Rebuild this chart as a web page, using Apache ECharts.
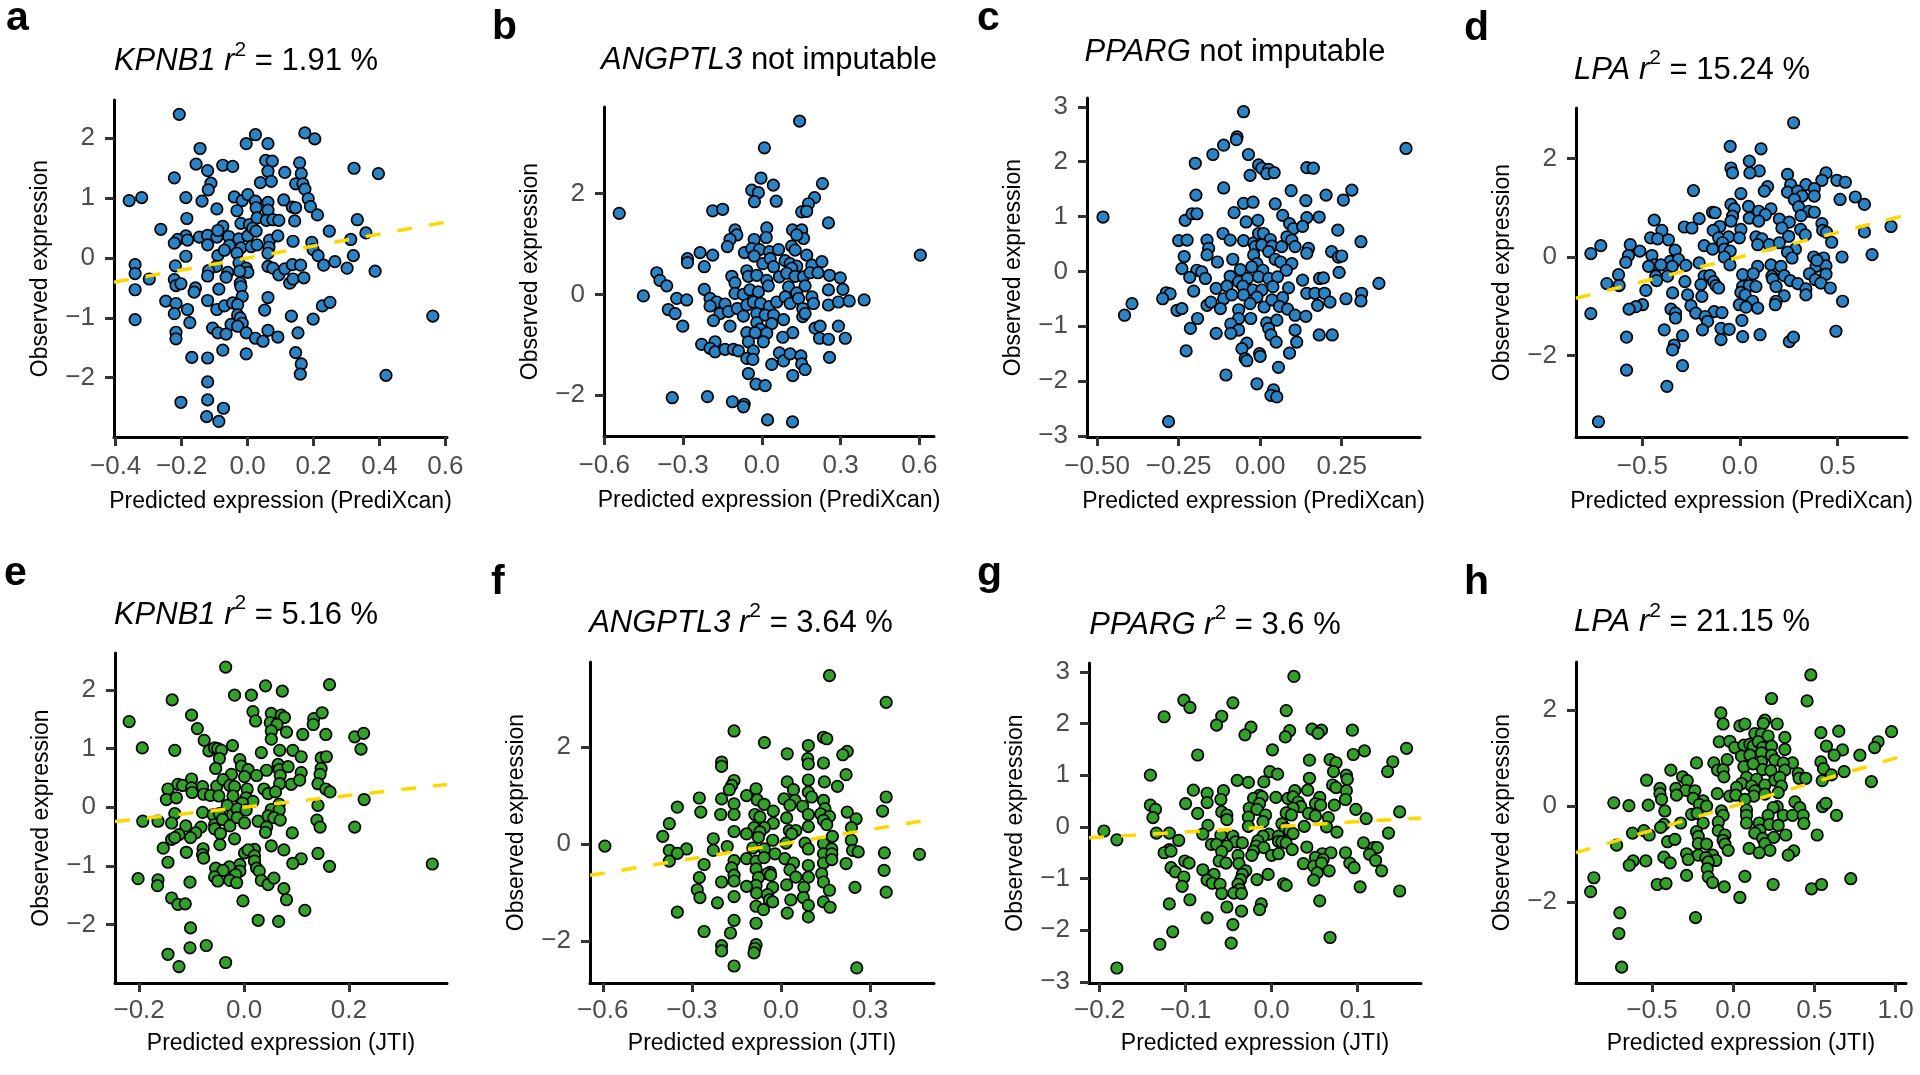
<!DOCTYPE html>
<html><head><meta charset="utf-8">
<script src="https://cdn.jsdelivr.net/npm/echarts@6/dist/echarts.min.js"></script>
<style>html,body{margin:0;padding:0;background:#fff}#chart{width:1920px;height:1075px}</style>
</head><body><div id="chart"></div>
<script>
// ---------------- DATA ----------------
const panelLetters = ['a','b','c','d','e','f','g','h'];
const geneNames = ['KPNB1','ANGPTL3','PPARG','LPA','KPNB1','ANGPTL3','PPARG','LPA'];
const r2Labels = ['1.91', null, null, '15.24', '5.16', '3.64', '3.6', '21.15'];
const xAxisTitles = ['Predicted expression (PrediXcan)','Predicted expression (PrediXcan)','Predicted expression (PrediXcan)','Predicted expression (PrediXcan)','Predicted expression (JTI)','Predicted expression (JTI)','Predicted expression (JTI)','Predicted expression (JTI)'];
const yAxisTitle = 'Observed expression';

const xTicks = [[-0.4,-0.2,0,0.2,0.4,0.6],[-0.6,-0.3,0,0.3,0.6],[-0.5,-0.25,0,0.25],[-0.5,0,0.5],[-0.2,0,0.2],[-0.6,-0.3,0,0.3],[-0.2,-0.1,0,0.1],[-0.5,0,0.5,1.0]];
const xTickLabels = [['−0.4','−0.2','0.0','0.2','0.4','0.6'],['−0.6','−0.3','0.0','0.3','0.6'],['−0.50','−0.25','0.00','0.25'],['−0.5','0.0','0.5'],['−0.2','0.0','0.2'],['−0.6','−0.3','0.0','0.3'],['−0.2','−0.1','0.0','0.1'],['−0.5','0.0','0.5','1.0']];
const yTicks = [[-2,-1,0,1,2],[-2,0,2],[-3,-2,-1,0,1,2,3],[-2,0,2],[-2,-1,0,1,2],[-2,0,2],[-3,-2,-1,0,1,2,3],[-2,0,2]];
const yTickLabels = [['−2','−1','0','1','2'],['−2','0','2'],['−3','−2','−1','0','1','2','3'],['−2','0','2'],['−2','−1','0','1','2'],['−2','0','2'],['−3','−2','−1','0','1','2','3'],['−2','0','2']];

const xLimits = [[-0.405,0.605],[-0.601,0.656],[-0.531,0.490],[-0.840,0.856],[-0.246,0.387],[-0.643,0.515],[-0.2124,0.1738],[-0.968,1.064]];
const yLimits = [[-2.99,2.64],[-2.81,3.72],[-3.02,3.16],[-3.66,3.03],[-3.00,2.63],[-2.86,3.75],[-3.02,3.17],[-3.68,3.00]];
const showIdentityLine = [true,false,false,true,true,true,true,true];

const kpnb1PrediXcan = [[-0.207,2.40],[0.024,2.06],[0.174,2.09],[0.204,1.99],[-0.004,1.91],[0.062,1.91],[-0.144,1.83],[-0.156,1.57],[-0.121,1.46],[-0.075,1.55],[-0.045,1.53],[0.055,1.63],[0.075,1.62],[0.062,1.45],[0.039,1.26],[0.072,1.28],[0.113,1.43],[0.158,1.59],[0.163,1.41],[0.146,1.24],[0.168,1.24],[0.174,1.15],[0.184,0.99],[0.191,0.86],[0.212,0.72],[0.323,1.50],[0.397,1.41],[-0.222,1.34],[-0.111,1.25],[-0.119,1.14],[-0.359,0.96],[-0.321,1.01],[-0.187,1.01],[-0.138,0.95],[-0.093,0.82],[-0.040,1.02],[-0.016,0.96],[0.001,1.06],[0.024,0.95],[-0.032,0.79],[0.026,0.84],[0.062,0.93],[0.062,0.80],[0.110,0.97],[0.136,0.85],[0.146,0.84],[-0.184,0.66],[-0.020,0.58],[0.006,0.56],[0.029,0.67],[0.057,0.63],[0.077,0.64],[0.095,0.63],[0.143,0.62],[0.333,0.64],[-0.263,0.48],[-0.187,0.37],[-0.212,0.31],[-0.222,0.25],[-0.182,0.30],[-0.146,0.35],[-0.121,0.38],[-0.093,0.35],[-0.075,0.53],[-0.090,0.46],[-0.057,0.36],[-0.026,0.32],[0.001,0.37],[0.016,0.50],[0.026,0.45],[-0.121,0.22],[-0.055,0.21],[-0.020,0.17],[0.011,0.19],[0.029,0.22],[0.067,0.30],[0.092,0.37],[0.065,0.18],[0.062,0.08],[0.138,0.28],[0.195,0.26],[0.248,0.45],[0.359,0.42],[0.313,0.31],[0.321,0.04],[0.199,0.14],[0.214,0.04],[0.231,-0.12],[0.265,-0.06],[0.302,-0.17],[0.387,-0.22],[-0.187,0.03],[-0.090,0.04],[-0.070,0.13],[-0.032,0.08],[-0.026,-0.08],[-0.004,-0.17],[0.001,-0.24],[-0.024,-0.22],[-0.095,-0.14],[-0.118,-0.21],[-0.121,-0.30],[-0.060,-0.24],[-0.065,-0.32],[0.062,-0.14],[0.077,-0.17],[0.095,-0.28],[0.113,-0.18],[0.136,-0.11],[0.161,-0.12],[0.128,-0.42],[0.138,-0.35],[0.171,-0.33],[-0.341,-0.11],[-0.341,-0.26],[-0.298,-0.35],[-0.219,-0.13],[-0.222,-0.36],[-0.217,-0.46],[-0.202,-0.43],[-0.158,-0.50],[-0.162,-0.57],[-0.087,-0.52],[-0.022,-0.42],[-0.020,-0.48],[-0.016,-0.64],[-0.341,-0.53],[-0.248,-0.72],[-0.217,-0.76],[-0.121,-0.71],[-0.182,-0.86],[-0.093,-0.86],[-0.070,-0.80],[-0.045,-0.75],[-0.030,-0.78],[0.062,-0.66],[0.052,-0.87],[-0.222,-0.93],[-0.341,-1.03],[-0.175,-1.08],[-0.030,-0.95],[-0.022,-1.00],[-0.016,-1.09],[-0.050,-1.11],[-0.030,-1.14],[-0.106,-1.17],[-0.090,-1.25],[-0.065,-1.27],[0.133,-0.97],[0.199,-1.02],[0.227,-0.80],[0.250,-0.74],[-0.217,-1.24],[-0.217,-1.35],[-0.004,-1.25],[0.024,-1.34],[0.047,-1.39],[0.062,-1.21],[0.092,-1.32],[0.153,-1.25],[-0.169,-1.66],[-0.121,-1.67],[-0.075,-1.54],[-0.004,-1.60],[0.146,-1.58],[0.163,-1.77],[0.160,-1.94],[0.420,-1.96],[0.562,-0.97],[-0.121,-2.07],[-0.202,-2.41],[-0.121,-2.37],[-0.073,-2.51],[-0.124,-2.65],[-0.087,-2.73]];

const angptl3PrediXcan = [[0.144,3.44],[0.010,2.91],[-0.003,2.31],[0.044,2.17],[0.231,2.20],[-0.038,2.07],[-0.013,2.02],[-0.028,1.84],[0.055,1.85],[0.201,1.92],[0.178,1.80],[0.152,1.64],[0.171,1.65],[-0.543,1.61],[-0.187,1.66],[-0.149,1.69],[0.254,1.42],[-0.102,1.28],[-0.095,1.18],[-0.121,1.09],[-0.131,0.95],[0.019,1.32],[0.017,1.13],[-0.029,1.09],[0.117,1.28],[0.152,1.28],[0.159,1.11],[0.133,1.18],[0.114,0.96],[0.127,0.88],[-0.235,0.83],[-0.187,0.78],[-0.283,0.71],[-0.283,0.63],[-0.219,0.55],[-0.066,0.83],[-0.038,0.91],[-0.009,0.89],[-0.029,0.76],[0.004,0.61],[0.029,0.85],[0.064,0.89],[0.032,0.71],[0.045,0.55],[0.171,0.78],[0.191,0.58],[0.229,0.65],[0.089,0.67],[0.108,0.61],[0.133,0.56],[0.114,0.52],[-0.400,0.43],[-0.388,0.28],[-0.362,0.17],[-0.114,0.36],[-0.102,0.23],[-0.057,0.47],[-0.051,0.36],[-0.019,0.38],[0.019,0.28],[0.025,0.17],[0.067,0.35],[0.095,0.42],[0.127,0.36],[0.159,0.35],[0.184,0.43],[0.214,0.43],[0.258,0.38],[0.299,0.33],[0.165,0.17],[0.102,0.15],[0.133,0.03],[0.254,0.09],[0.309,0.10],[-0.219,0.10],[-0.102,0.02],[-0.070,0.00],[-0.045,0.09],[-0.013,0.05],[-0.451,-0.03],[-0.324,-0.08],[-0.286,-0.11],[-0.197,-0.08],[-0.172,-0.15],[-0.140,-0.19],[-0.197,-0.23],[-0.356,-0.30],[-0.330,-0.38],[-0.159,-0.38],[-0.127,-0.34],[-0.093,-0.28],[-0.057,-0.21],[-0.032,-0.15],[-0.004,-0.18],[0.029,-0.24],[0.057,-0.15],[0.089,-0.05],[0.108,-0.18],[0.140,-0.08],[0.191,-0.05],[0.197,-0.18],[0.254,-0.21],[0.292,-0.15],[0.333,-0.13],[0.390,-0.11],[0.156,-0.28],[0.156,-0.44],[0.165,-0.38],[-0.019,-0.38],[0.013,-0.41],[0.045,-0.41],[0.083,-0.50],[-0.070,-0.43],[-0.184,-0.52],[-0.121,-0.63],[-0.301,-0.63],[-0.019,-0.56],[0.038,-0.58],[-0.006,-0.69],[0.019,-0.77],[-0.057,-0.76],[-0.025,-0.76],[0.118,-0.76],[0.203,-0.67],[0.222,-0.63],[0.292,-0.63],[0.080,-0.85],[0.220,-0.87],[0.254,-0.89],[0.318,-0.87],[-0.051,-0.94],[0.006,-0.94],[-0.229,-0.99],[-0.178,-0.94],[-0.197,-1.07],[-0.178,-1.14],[-0.140,-1.09],[-0.108,-1.09],[-0.089,-1.12],[-0.032,-1.12],[-0.057,-1.27],[-0.034,-1.29],[0.067,-1.16],[0.083,-1.32],[0.108,-1.18],[0.149,-1.22],[0.152,-1.38],[0.165,-1.49],[0.258,-1.25],[0.038,-1.39],[-0.051,-1.57],[0.118,-1.61],[-0.022,-1.78],[0.013,-1.81],[-0.341,-2.05],[-0.207,-2.03],[-0.112,-2.13],[-0.067,-2.18],[-0.070,-2.23],[0.022,-2.49],[0.117,-2.53],[0.604,0.78]];

const ppargPrediXcan = [[-0.051,2.91],[-0.071,2.45],[-0.073,2.40],[-0.112,2.30],[-0.145,2.13],[-0.036,2.13],[0.447,2.24],[-0.199,1.97],[-0.005,1.94],[0.005,1.88],[0.026,1.86],[0.020,1.78],[0.043,1.80],[-0.031,1.75],[0.143,1.89],[0.163,1.88],[-0.112,1.52],[0.095,1.47],[0.281,1.48],[0.202,1.39],[0.255,1.30],[0.140,1.29],[-0.197,1.39],[-0.051,1.24],[-0.022,1.26],[0.046,1.23],[-0.482,0.99],[-0.230,0.93],[-0.209,1.05],[-0.194,1.05],[-0.080,1.07],[-0.043,0.90],[-0.007,0.93],[0.069,1.02],[0.143,0.98],[0.181,0.99],[0.090,0.87],[0.102,0.78],[0.130,0.82],[0.238,0.75],[-0.114,0.69],[-0.092,0.57],[-0.250,0.56],[-0.224,0.57],[-0.163,0.57],[-0.158,0.42],[-0.163,0.30],[-0.051,0.56],[-0.020,0.52],[-0.005,0.69],[0.010,0.69],[0.031,0.58],[-0.015,0.45],[0.005,0.48],[0.036,0.46],[0.026,0.36],[0.066,0.45],[0.082,0.63],[0.097,0.57],[0.107,0.45],[0.148,0.42],[0.143,0.33],[0.309,0.54],[0.219,0.36],[0.240,0.26],[0.250,0.28],[-0.233,0.27],[-0.131,0.17],[-0.084,0.22],[-0.020,0.30],[0.046,0.22],[0.063,0.17],[0.097,0.14],[-0.010,0.14],[-0.240,0.05],[-0.194,0.02],[-0.179,-0.01],[-0.061,0.03],[-0.026,0.08],[0.008,0.02],[0.080,0.02],[0.242,-0.02],[-0.216,-0.11],[-0.168,-0.13],[-0.092,-0.09],[-0.066,-0.19],[-0.039,-0.13],[-0.005,-0.10],[0.026,-0.13],[0.053,-0.10],[0.130,-0.16],[0.182,-0.13],[0.194,-0.12],[0.364,-0.22],[-0.135,-0.31],[-0.102,-0.27],[-0.053,-0.27],[-0.022,-0.34],[0.005,-0.34],[0.039,-0.28],[0.087,-0.30],[-0.204,-0.36],[-0.288,-0.39],[-0.276,-0.41],[-0.299,-0.50],[-0.112,-0.50],[-0.087,-0.43],[-0.051,-0.43],[-0.010,-0.47],[0.069,-0.48],[0.143,-0.40],[0.168,-0.40],[0.197,-0.40],[0.311,-0.40],[0.309,-0.54],[0.263,-0.50],[0.214,-0.56],[0.176,-0.62],[-0.163,-0.62],[-0.151,-0.56],[-0.122,-0.68],[-0.066,-0.70],[-0.031,-0.59],[0.012,-0.65],[0.036,-0.52],[0.059,-0.64],[0.084,-0.69],[-0.255,-0.71],[-0.240,-0.68],[-0.393,-0.59],[-0.416,-0.80],[-0.192,-0.86],[-0.066,-0.86],[-0.029,-0.86],[0.020,-0.94],[0.051,-0.89],[0.107,-0.80],[0.140,-0.82],[-0.090,-0.96],[-0.066,-1.07],[-0.090,-1.13],[-0.214,-1.04],[-0.135,-1.13],[0.026,-1.04],[0.033,-1.16],[0.107,-1.07],[0.181,-1.16],[0.221,-1.16],[0.049,-1.29],[0.112,-1.29],[-0.041,-1.31],[-0.056,-1.41],[-0.227,-1.45],[-0.002,-1.50],[0.000,-1.55],[0.090,-1.49],[-0.046,-1.59],[-0.041,-1.63],[0.056,-1.75],[-0.105,-1.89],[-0.010,-2.05],[0.041,-2.16],[0.033,-2.26],[0.051,-2.29],[-0.281,-2.74]];

const lpaPrediXcan = [[0.275,2.73],[-0.050,2.25],[0.108,2.20],[0.048,1.95],[0.099,1.75],[-0.046,1.81],[-0.038,1.71],[0.051,1.71],[0.244,1.68],[0.441,1.71],[0.420,1.56],[0.497,1.56],[0.540,1.52],[0.260,1.47],[0.338,1.47],[0.381,1.39],[0.142,1.43],[0.125,1.34],[-0.238,1.35],[0.005,1.29],[0.244,1.32],[0.296,1.34],[0.318,1.24],[0.279,1.17],[0.381,1.24],[0.513,1.17],[0.591,1.22],[0.638,1.07],[-0.046,1.07],[0.044,1.03],[-0.029,0.98],[0.301,1.02],[0.159,0.98],[0.096,0.93],[0.130,0.86],[0.352,0.93],[0.381,0.91],[-0.140,0.91],[-0.127,0.90],[-0.038,0.83],[0.313,0.84],[-0.209,0.78],[-0.046,0.73],[0.048,0.79],[0.096,0.73],[0.202,0.77],[0.253,0.71],[0.420,0.68],[-0.439,0.75],[-0.103,0.62],[-0.285,0.61],[-0.246,0.59],[0.215,0.59],[0.311,0.56],[0.424,0.54],[0.444,0.50],[0.638,0.51],[0.774,0.62],[-0.400,0.54],[-0.137,0.54],[0.005,0.56],[0.082,0.41],[0.113,0.37],[0.250,0.42],[0.335,0.45],[-0.458,0.39],[-0.422,0.37],[-0.366,0.35],[-0.109,0.39],[-0.058,0.41],[-0.003,0.39],[-0.089,0.29],[0.091,0.25],[0.150,0.25],[0.202,0.29],[0.470,0.30],[-0.713,0.23],[-0.562,0.25],[-0.183,0.23],[-0.513,0.12],[-0.332,0.14],[-0.140,0.16],[-0.080,0.16],[-0.050,0.12],[0.284,0.16],[-0.764,0.07],[-0.571,0.03],[-0.451,0.03],[0.244,0.10],[0.677,0.05],[-0.080,0.00],[0.267,-0.02],[0.378,0.00],[0.429,-0.02],[0.523,0.00],[-0.585,-0.11],[-0.357,-0.09],[-0.315,-0.05],[-0.439,-0.16],[-0.468,-0.19],[-0.405,-0.16],[-0.347,-0.19],[-0.277,-0.17],[-0.209,-0.12],[-0.051,-0.16],[0.091,-0.19],[0.159,-0.16],[0.210,-0.19],[0.390,-0.19],[0.441,-0.18],[0.395,-0.07],[-0.622,-0.36],[-0.431,-0.39],[-0.371,-0.39],[-0.183,-0.39],[-0.154,-0.38],[0.014,-0.36],[0.068,-0.34],[0.164,-0.39],[0.227,-0.38],[0.356,-0.34],[0.441,-0.35],[-0.427,-0.48],[-0.135,-0.50],[-0.282,-0.50],[0.168,-0.45],[0.258,-0.48],[0.386,-0.46],[0.415,-0.53],[-0.682,-0.54],[-0.619,-0.58],[-0.200,-0.56],[-0.123,-0.58],[-0.109,-0.63],[0.014,-0.60],[0.048,-0.58],[0.082,-0.60],[0.185,-0.60],[0.296,-0.54],[0.338,-0.65],[0.463,-0.63],[-0.482,-0.68],[-0.345,-0.73],[0.005,-0.72],[0.027,-0.77],[0.338,-0.77],[-0.268,-0.77],[-0.195,-0.80],[0.227,-0.79],[0.065,-0.90],[0.185,-0.90],[0.526,-0.90],[-0.499,-0.97],[-0.533,-1.01],[-0.568,-1.06],[-0.251,-0.99],[-0.003,-0.97],[0.031,-1.02],[0.181,-0.97],[0.091,-1.04],[-0.764,-1.15],[-0.353,-1.06],[-0.330,-1.14],[-0.226,-1.14],[-0.132,-1.11],[-0.092,-1.13],[-0.178,-1.21],[-0.330,-1.24],[-0.166,-1.31],[0.010,-1.29],[-0.388,-1.48],[-0.192,-1.48],[-0.097,-1.45],[-0.055,-1.47],[0.492,-1.51],[-0.581,-1.63],[-0.294,-1.60],[-0.097,-1.68],[0.014,-1.62],[0.103,-1.58],[0.253,-1.72],[0.274,-1.63],[-0.337,-1.79],[-0.345,-1.89],[-0.294,-2.21],[-0.581,-2.30],[-0.374,-2.63],[-0.725,-3.35]];

const kpnb1Jti = [[-0.035,2.39],[0.041,2.07],[0.163,2.09],[0.073,1.98],[-0.018,1.91],[0.014,1.91],[-0.137,1.83],[-0.219,1.46],[-0.100,1.57],[0.017,1.63],[0.022,1.47],[0.052,1.60],[0.071,1.57],[0.077,1.53],[0.133,1.51],[0.132,1.41],[0.149,1.61],[0.050,1.44],[0.063,1.41],[-0.089,1.34],[0.052,1.30],[0.052,1.16],[0.081,1.28],[0.112,1.24],[0.156,1.24],[0.211,1.20],[0.228,1.26],[0.223,0.99],[-0.076,1.14],[-0.022,1.05],[-0.194,1.01],[-0.132,0.97],[-0.067,0.96],[-0.056,1.01],[-0.050,1.00],[-0.043,0.97],[0.068,0.97],[0.093,0.97],[0.033,0.93],[0.109,0.86],[0.147,0.84],[0.157,0.86],[-0.047,0.83],[-0.008,0.81],[-0.054,0.66],[-0.005,0.70],[0.008,0.64],[0.043,0.63],[0.065,0.73],[0.067,0.64],[0.084,0.69],[0.147,0.66],[0.145,0.56],[0.109,0.59],[-0.024,0.56],[0.001,0.52],[0.024,0.54],[0.069,0.54],[-0.100,0.48],[-0.126,0.39],[-0.117,0.37],[-0.145,0.31],[-0.100,0.33],[-0.079,0.35],[-0.052,0.36],[-0.040,0.47],[-0.027,0.37],[-0.018,0.35],[0.006,0.31],[0.038,0.31],[0.068,0.40],[0.090,0.39],[0.106,0.46],[0.141,0.40],[0.156,0.31],[0.164,0.26],[-0.148,0.13],[-0.129,0.16],[-0.099,0.25],[-0.077,0.22],[-0.064,0.20],[-0.048,0.19],[-0.021,0.19],[0.004,0.16],[0.017,0.10],[0.046,0.23],[0.060,0.26],[0.229,0.13],[-0.032,0.03],[-0.003,0.07],[0.067,0.05],[0.141,0.03],[-0.132,-0.11],[-0.079,-0.09],[-0.059,-0.13],[-0.047,-0.11],[-0.022,-0.13],[-0.013,-0.03],[0.004,-0.05],[0.052,-0.04],[0.067,-0.05],[-0.193,-0.24],[-0.164,-0.24],[-0.138,-0.27],[-0.056,-0.30],[-0.041,-0.21],[-0.027,-0.32],[-0.013,-0.18],[0.001,-0.27],[0.027,-0.24],[0.046,-0.15],[0.057,-0.18],[0.069,-0.22],[0.139,-0.22],[0.145,-0.34],[0.211,-0.34],[-0.111,-0.32],[-0.082,-0.34],[0.043,-0.34],[-0.056,-0.37],[-0.092,-0.44],[-0.124,-0.47],[-0.045,-0.45],[0.041,-0.43],[0.092,-0.44],[-0.138,-0.55],[-0.132,-0.52],[-0.102,-0.52],[-0.018,-0.54],[-0.046,-0.64],[-0.154,-0.70],[0.052,-0.66],[-0.078,-0.71],[-0.110,-0.77],[-0.079,-0.81],[0.001,-0.78],[0.020,-0.72],[0.008,-0.73],[0.076,-0.73],[-0.077,-0.87],[0.020,-0.83],[0.020,-0.92],[-0.145,-0.94],[0.109,-0.88],[0.093,-0.96],[0.141,-0.79],[0.163,-1.01],[-0.008,-0.98],[-0.054,-1.04],[-0.028,-1.02],[-0.008,-1.09],[-0.016,-1.15],[0.024,-1.04],[0.029,-1.09],[-0.040,-1.08],[-0.056,-1.19],[-0.050,-1.26],[-0.027,-1.25],[-0.014,-1.29],[-0.202,-1.22],[-0.164,-1.24],[-0.165,-1.34],[-0.103,-1.28],[0.033,-1.25],[0.046,-1.32],[0.057,-1.21],[0.076,-1.39],[0.081,-1.58],[-0.138,-1.55],[-0.126,-1.66],[-0.112,-1.65],[-0.002,-1.60],[0.116,-1.76],[0.027,-1.93],[0.066,-1.95],[0.359,-0.97],[-0.102,-2.06],[-0.103,-2.40],[-0.072,-2.36],[-0.145,-2.51],[-0.124,-2.72],[-0.035,-2.65]];

const angptl3Jti = [[0.163,3.47],[0.354,2.92],[-0.158,2.33],[-0.056,2.09],[0.143,2.20],[0.154,2.17],[0.092,2.03],[0.021,1.86],[0.223,1.91],[0.208,1.84],[0.090,1.76],[0.092,1.65],[0.143,1.67],[-0.200,1.69],[-0.200,1.60],[0.219,1.43],[-0.158,1.31],[-0.166,1.21],[-0.174,1.12],[0.021,1.28],[0.092,1.32],[0.146,1.28],[0.190,1.19],[-0.084,1.14],[0.042,1.12],[0.092,1.07],[-0.116,1.00],[-0.275,0.95],[-0.200,0.93],[-0.080,0.91],[0.010,0.93],[0.047,0.90],[0.103,0.97],[0.143,0.90],[0.354,0.97],[-0.158,0.83],[-0.057,0.82],[0.030,0.80],[0.073,0.78],[0.148,0.73],[-0.349,0.76],[-0.026,0.68],[-0.270,0.66],[-0.203,0.61],[-0.158,0.61],[-0.088,0.61],[-0.071,0.56],[0.019,0.54],[0.092,0.61],[0.134,0.62],[0.163,0.57],[0.223,0.66],[0.253,0.52],[0.342,0.68],[-0.376,0.42],[-0.026,0.43],[0.143,0.49],[0.154,0.40],[-0.091,0.34],[-0.056,0.34],[0.092,0.36],[0.237,0.34],[-0.158,0.26],[-0.116,0.21],[-0.071,0.25],[0.028,0.28],[0.050,0.28],[-0.398,0.16],[-0.228,0.11],[-0.076,0.14],[-0.028,0.08],[0.036,0.21],[0.173,0.16],[0.237,0.08],[-0.593,-0.04],[-0.318,-0.10],[-0.376,-0.13],[-0.349,-0.19],[-0.228,-0.13],[-0.181,-0.05],[-0.095,-0.08],[-0.056,-0.10],[-0.020,-0.20],[0.017,0.02],[0.081,0.02],[0.092,-0.10],[0.143,0.01],[0.171,-0.10],[0.143,-0.20],[0.171,-0.20],[0.241,-0.13],[0.260,-0.16],[0.348,-0.18],[0.466,-0.21],[-0.376,-0.35],[-0.259,-0.42],[-0.158,-0.34],[-0.116,-0.30],[-0.084,-0.35],[-0.057,-0.28],[0.013,-0.30],[0.042,-0.39],[0.092,-0.44],[0.143,-0.39],[0.171,-0.32],[0.219,-0.40],[-0.166,-0.49],[-0.084,-0.51],[-0.037,-0.58],[0.030,-0.53],[0.347,-0.54],[-0.158,-0.64],[-0.046,-0.61],[-0.035,-0.64],[0.050,-0.68],[0.092,-0.68],[0.137,-0.61],[-0.275,-0.69],[-0.076,-0.69],[-0.158,-0.76],[-0.200,-0.78],[0.143,-0.78],[-0.084,-0.85],[-0.116,-0.87],[-0.028,-0.89],[0.019,-0.84],[0.077,-0.89],[0.249,-0.89],[-0.282,-0.94],[-0.082,-1.01],[-0.046,-1.04],[0.163,-0.95],[0.354,-0.99],[-0.273,-1.10],[-0.158,-1.08],[-0.039,-1.15],[-0.028,-1.19],[0.033,-1.15],[0.075,-1.10],[-0.214,-1.21],[0.143,-1.19],[0.092,-1.26],[-0.084,-1.28],[-0.059,-1.35],[0.165,-1.30],[-0.349,-1.40],[0.021,-1.42],[0.092,-1.50],[-0.158,-1.57],[-0.084,-1.63],[-0.259,-1.80],[-0.170,-1.83],[-0.200,-2.09],[-0.200,-2.20],[-0.084,-2.07],[-0.088,-2.15],[-0.091,-2.24],[-0.158,-2.51],[0.255,-2.55]];

const ppargJti = [[0.026,2.91],[-0.102,2.45],[-0.095,2.31],[-0.045,2.40],[0.017,2.25],[-0.125,2.13],[-0.058,2.14],[-0.064,1.97],[-0.024,1.93],[-0.031,1.78],[0.021,1.86],[0.016,1.74],[0.047,1.89],[0.058,1.87],[0.054,1.81],[0.094,1.87],[0.157,1.52],[0.108,1.47],[0.001,1.49],[-0.086,1.39],[0.095,1.40],[0.044,1.29],[0.068,1.30],[0.075,1.24],[0.141,1.26],[0.135,1.07],[0.072,1.07],[-0.002,1.07],[0.007,1.02],[-0.141,1.00],[0.087,1.00],[0.088,0.92],[0.044,0.94],[-0.040,0.90],[-0.027,0.86],[-0.009,0.87],[0.071,0.81],[0.075,0.76],[0.087,0.70],[-0.091,0.71],[-0.075,0.65],[-0.056,0.70],[0.027,0.70],[0.042,0.71],[-0.014,0.61],[-0.021,0.55],[-0.011,0.58],[0.005,0.57],[0.019,0.55],[0.025,0.58],[0.056,0.57],[0.086,0.53],[-0.075,0.47],[-0.059,0.53],[-0.100,0.45],[-0.141,0.42],[-0.135,0.34],[-0.138,0.18],[-0.014,0.45],[0.031,0.48],[0.034,0.39],[0.051,0.45],[0.057,0.42],[0.073,0.42],[-0.026,0.36],[-0.017,0.34],[0.025,0.36],[0.043,0.26],[0.098,0.34],[0.149,0.29],[-0.086,0.26],[-0.058,0.29],[-0.052,0.23],[-0.027,0.19],[-0.007,0.23],[0.017,0.27],[0.023,0.23],[0.051,0.21],[0.066,0.18],[0.110,0.16],[-0.052,0.14],[-0.010,0.10],[0.012,0.06],[-0.074,0.03],[-0.027,0.01],[0.038,0.01],[0.064,0.00],[-0.195,-0.08],[-0.134,-0.12],[-0.119,-0.12],[-0.080,-0.14],[0.016,-0.03],[0.021,-0.08],[0.025,-0.13],[0.076,-0.10],[0.136,-0.12],[-0.180,-0.25],[-0.108,-0.26],[-0.059,-0.16],[-0.045,-0.18],[-0.003,-0.14],[0.008,-0.18],[0.008,-0.28],[0.012,-0.29],[-0.010,-0.18],[-0.016,-0.27],[-0.042,-0.29],[-0.034,-0.31],[-0.070,-0.34],[-0.064,-0.34],[-0.052,-0.37],[0.017,-0.31],[0.107,-0.31],[-0.018,-0.37],[-0.009,-0.40],[0.041,-0.39],[-0.119,-0.44],[-0.058,-0.48],[-0.021,-0.47],[0.024,-0.44],[0.119,-0.40],[0.123,-0.40],[0.114,-0.53],[-0.125,-0.50],[-0.117,-0.47],[-0.039,-0.55],[-0.023,-0.55],[0.000,-0.55],[0.008,-0.52],[0.059,-0.52],[0.069,-0.50],[0.086,-0.50],[0.051,-0.59],[0.060,-0.63],[0.121,-0.65],[-0.101,-0.66],[-0.096,-0.70],[-0.061,-0.66],[-0.053,-0.70],[-0.038,-0.71],[0.037,-0.71],[0.049,-0.76],[0.058,-0.70],[0.091,-0.70],[0.096,-0.79],[0.067,-0.85],[0.053,-0.89],[0.128,-0.85],[-0.117,-0.79],[-0.080,-0.83],[-0.112,-0.87],[-0.067,-0.92],[-0.030,-0.85],[-0.034,-0.92],[-0.102,-0.97],[-0.036,-1.02],[-0.017,-1.02],[-0.004,-0.92],[-0.075,-1.03],[0.049,-1.03],[-0.069,-1.09],[-0.060,-1.11],[-0.039,-1.11],[0.014,-1.10],[0.017,-1.13],[-0.104,-1.15],[0.103,-1.16],[-0.037,-1.21],[0.149,-1.24],[-0.058,-1.29],[-0.044,-1.28],[-0.035,-1.29],[-0.095,-1.41],[0.056,-1.43],[-0.119,-1.49],[-0.012,-1.49],[-0.052,-1.55],[-0.014,-1.60],[-0.035,-1.63],[-0.075,-1.76],[-0.045,-1.89],[-0.115,-2.03],[0.068,-2.14],[-0.130,-2.27],[-0.047,-2.25],[-0.180,-2.73]];

const lpaJti = [[0.478,2.73],[0.236,2.24],[0.455,2.19],[-0.076,1.94],[-0.062,1.71],[0.041,1.67],[0.072,1.71],[0.195,1.79],[0.185,1.72],[0.271,1.71],[0.540,1.53],[0.650,1.56],[0.975,1.55],[0.133,1.51],[0.174,1.50],[0.215,1.46],[0.318,1.43],[0.318,1.18],[-0.086,1.34],[-0.021,1.35],[0.010,1.22],[0.066,1.27],[0.103,1.29],[0.123,1.25],[0.154,1.34],[0.181,1.22],[0.236,1.25],[0.574,1.25],[0.673,1.17],[0.622,1.06],[0.892,1.34],[0.871,1.22],[0.780,1.06],[0.051,1.04],[0.103,1.06],[0.174,1.11],[0.236,1.06],[0.256,0.96],[-0.037,0.97],[-0.226,0.90],[-0.119,0.90],[0.174,0.92],[0.365,0.90],[0.308,0.90],[0.540,0.92],[0.066,0.82],[0.123,0.88],[0.181,0.76],[0.232,0.74],[0.318,0.75],[0.556,0.78],[-0.384,0.75],[-0.096,0.75],[-0.062,0.76],[-0.057,0.61],[0.400,0.68],[0.406,0.58],[0.447,0.58],[0.683,0.72],[0.605,0.65],[0.548,0.53],[0.851,0.51],[-0.312,0.61],[-0.533,0.54],[-0.283,0.53],[0.082,0.60],[0.144,0.56],[0.256,0.54],[0.287,0.60],[0.051,0.47],[0.113,0.42],[0.195,0.44],[0.297,0.42],[-0.451,0.37],[-0.353,0.37],[-0.292,0.33],[-0.236,0.32],[0.021,0.39],[0.133,0.32],[-0.451,0.26],[-0.349,0.23],[-0.098,0.26],[-0.021,0.21],[0.016,0.23],[0.127,0.21],[0.195,0.25],[0.277,0.28],[-0.441,0.14],[-0.246,0.16],[-0.185,0.11],[0.072,0.14],[-0.735,0.07],[-0.642,0.01],[-0.523,0.02],[-0.209,0.03],[-0.164,0.00],[0.380,0.09],[0.550,-0.01],[0.571,0.06],[0.271,-0.01],[0.410,-0.03],[-0.421,-0.10],[-0.072,-0.10],[0.082,-0.08],[0.246,-0.03],[-0.256,-0.17],[-0.222,-0.15],[-0.062,-0.19],[0.082,-0.19],[0.215,-0.19],[0.308,-0.19],[0.365,-0.19],[0.431,-0.19],[0.636,-0.19],[-0.324,-0.35],[-0.185,-0.35],[-0.092,-0.33],[0.082,-0.35],[0.160,-0.35],[0.222,-0.38],[0.277,-0.40],[0.435,-0.36],[-0.427,-0.38],[-0.447,-0.44],[-0.620,-0.56],[-0.550,-0.51],[-0.517,-0.60],[-0.226,-0.53],[-0.092,-0.51],[0.164,-0.50],[0.133,-0.56],[0.324,-0.60],[0.517,-0.60],[-0.215,-0.63],[-0.051,-0.60],[0.181,-0.67],[0.250,-0.65],[-0.404,-0.74],[-0.359,-0.69],[-0.062,-0.71],[-0.215,-0.78],[-0.718,-0.81],[-0.164,-0.79],[-0.051,-0.79],[0.195,-0.78],[-0.031,-0.92],[0.098,-0.88],[0.226,-0.92],[0.160,-0.97],[0.373,-0.93],[0.339,-1.02],[-0.287,-0.99],[-0.215,-1.02],[-0.127,-1.02],[-0.107,-1.13],[-0.427,-1.06],[-0.277,-1.11],[-0.168,-1.07],[-0.154,-1.16],[-0.616,-1.14],[-0.640,-1.23],[-0.538,-1.14],[-0.388,-1.18],[-0.160,-1.30],[-0.287,-1.44],[-0.154,-1.47],[0.072,-1.46],[0.724,-1.51],[-0.858,-1.49],[-0.468,-1.63],[-0.414,-1.61],[-0.127,-1.59],[-0.055,-1.68],[0.246,-1.63],[0.482,-1.72],[0.544,-1.63],[-0.878,-1.78],[0.041,-1.90],[-0.698,-2.22],[-0.232,-2.32],[-0.704,-2.65],[-0.687,-3.35]];

const panelData = [kpnb1PrediXcan, angptl3PrediXcan, ppargPrediXcan, lpaPrediXcan, kpnb1Jti, angptl3Jti, ppargJti, lpaJti];

// ---------------- LAYOUT & STYLE ----------------
const FONT = '"Liberation Sans", Arial, Helvetica, sans-serif';
const BLUE = '#2b83c3';
const GREEN = '#33a02c';
const pointColors = [BLUE, BLUE, BLUE, BLUE, GREEN, GREEN, GREEN, GREEN];
const gridBoxes = [
  {left:114, top:100, width:333, height:337},
  {left:604, top:107, width:330, height:329},
  {left:1087, top:98, width:333, height:339},
  {left:1576, top:108, width:331, height:329},
  {left:115, top:653, width:332, height:330},
  {left:590, top:662, width:344, height:321},
  {left:1089, top:663, width:332, height:320},
  {left:1576, top:662, width:330, height:321}
];
const titleCenters = [[246,61.5],[769,60.5],[1235,52],[1692,70],[246,615],[741,623],[1215,625],[1692,622.5]];
const letterPos = [[6,19],[492,28],[977,19],[1464,29],[4,574],[491,583],[977,574],[1464,583]];

function findLabel(ticks, labels, v) {
  for (let i = 0; i < ticks.length; i++) if (Math.abs(ticks[i] - v) < 1e-9) return labels[i];
  return '';
}

const grids = [], xAxes = [], yAxes = [], series = [], graphics = [];
for (let i = 0; i < 8; i++) {
  const row = i < 4 ? 0 : 1;
  grids.push(Object.assign({containLabel:false}, gridBoxes[i]));
  xAxes.push({
    type:'value', gridIndex:i, min:xLimits[i][0], max:xLimits[i][1],
    axisLine:{show:true, onZero:false, lineStyle:{color:'#000', width:3}},
    axisTick:{show:true, customValues:xTicks[i], length:9, lineStyle:{color:'#333', width:3}},
    axisLabel:{show:true, customValues:xTicks[i], formatter:(v)=>findLabel(xTicks[i], xTickLabels[i], v),
      fontSize:26, color:'#4d4d4d', fontFamily:FONT, margin: row === 0 ? 17 : 15},
    splitLine:{show:false},
    name:xAxisTitles[i], nameLocation:'middle', nameGap: row === 0 ? 65 : 61,
    nameTextStyle:{fontSize:23, color:'#000', fontFamily:FONT, verticalAlign:'middle'}
  });
  yAxes.push({
    type:'value', gridIndex:i, min:yLimits[i][0], max:yLimits[i][1],
    axisLine:{show:true, onZero:false, lineStyle:{color:'#000', width:3}},
    axisTick:{show:true, customValues:yTicks[i], length:9, lineStyle:{color:'#333', width:3}},
    axisLabel:{show:true, customValues:yTicks[i], formatter:(v)=>findLabel(yTicks[i], yTickLabels[i], v),
      fontSize:26, color:'#4d4d4d', fontFamily:FONT, margin:19},
    splitLine:{show:false},
    name:yAxisTitle, nameLocation:'middle', nameGap:73,
    nameTextStyle:{fontSize:23, color:'#000', fontFamily:FONT, verticalAlign:'middle'}
  });
  series.push({
    type:'scatter', xAxisIndex:i, yAxisIndex:i, data:panelData[i],
    symbol:'circle', symbolSize:11.5, z:2, silent:true,
    itemStyle:{color:pointColors[i], borderColor:'#000', borderWidth:1.7, opacity:1}
  });
  if (showIdentityLine[i]) {
    const lo = xLimits[i][0], hi = xLimits[i][1];
    series.push({
      type:'line', xAxisIndex:i, yAxisIndex:i, data:[[lo,lo],[hi,hi]],
      symbol:'none', z:5, silent:true, clip:true,
      lineStyle:{color:'#FFD700', width:3.5, type:[15,17]}
    });
  }
  const text = r2Labels[i] ? `{g|${geneNames[i]} r}{s|2}{n| = ${r2Labels[i]} %}` : `{g|${geneNames[i]}}{n| not imputable}`;
  graphics.push({
    type:'text', x:titleCenters[i][0], y:titleCenters[i][1], silent:true,
    style:{text:text, fill:'#000', font:'31px ' + FONT, align:'center', verticalAlign:'middle',
      textAlign:'center', textVerticalAlign:'middle',
      rich:{
        g:{fontStyle:'italic', fontSize:31, fontFamily:FONT, lineHeight:44, fill:'#000'},
        n:{fontSize:31, fontFamily:FONT, lineHeight:44, fill:'#000'},
        s:{fontSize:21, fontFamily:FONT, lineHeight:21, verticalAlign:'top', fill:'#000'}
      }}
  });
  graphics.push({
    type:'text', x:letterPos[i][0], y:letterPos[i][1], silent:true,
    style:{text:panelLetters[i], fill:'#000', font:'bold 41px ' + FONT, align:'left', verticalAlign:'middle',
      textAlign:'left', textVerticalAlign:'middle'}
  });
}

const option = {
  animation:false,
  backgroundColor:'#fff',
  grid:grids, xAxis:xAxes, yAxis:yAxes, series:series, graphic:graphics
};
const chart = echarts.init(document.getElementById('chart'), null, {renderer:'canvas', width:1920, height:1075});
chart.setOption(option);
</script></body></html>
